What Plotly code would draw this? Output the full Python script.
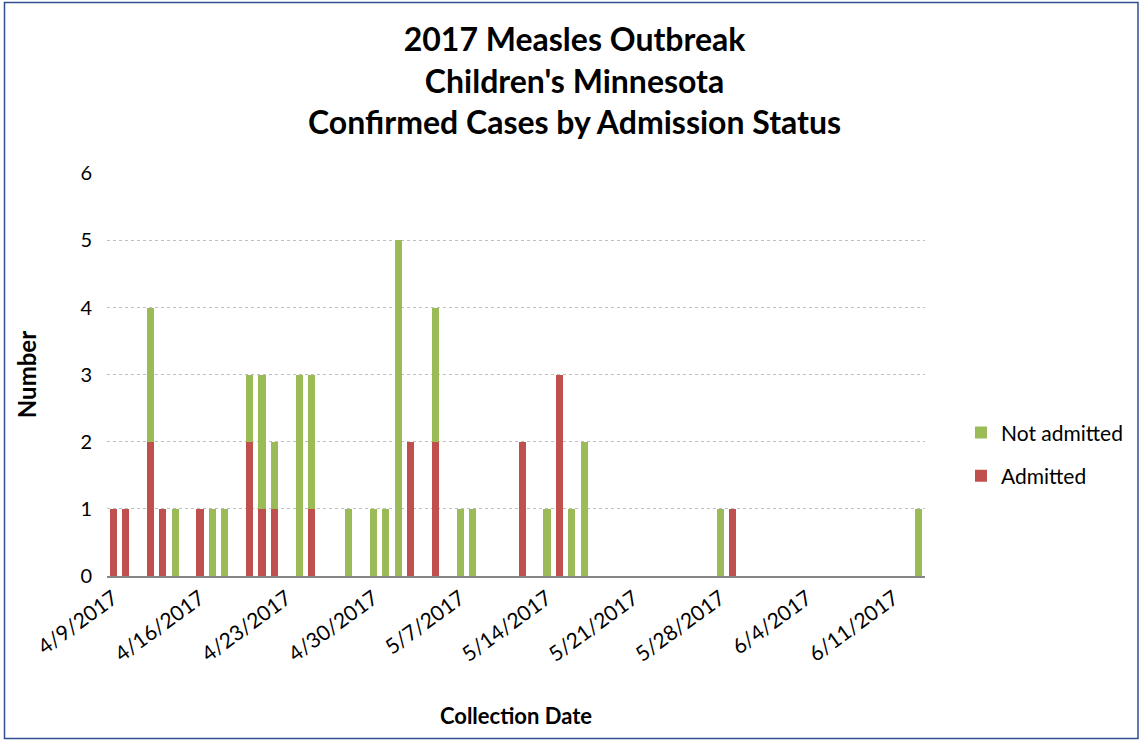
import plotly.graph_objects as go

# ---- data ----
dates = ["2017-04-09", "2017-04-10", "2017-04-12", "2017-04-13", "2017-04-14",
         "2017-04-16", "2017-04-17", "2017-04-18", "2017-04-20", "2017-04-21",
         "2017-04-22", "2017-04-24", "2017-04-25", "2017-04-28", "2017-04-30",
         "2017-05-01", "2017-05-02", "2017-05-03", "2017-05-05", "2017-05-07",
         "2017-05-08", "2017-05-12", "2017-05-14", "2017-05-15", "2017-05-16",
         "2017-05-17", "2017-05-28", "2017-05-29", "2017-06-13"]
admitted = [1, 1, 2, 1, 0,
            1, 0, 0, 2, 1,
            1, 0, 1, 0, 0,
            0, 0, 2, 2, 0,
            0, 2, 0, 3, 0,
            0, 0, 1, 0]
not_admitted = [0, 0, 2, 0, 1,
                0, 1, 1, 1, 2,
                1, 3, 2, 1, 1,
                1, 5, 0, 2, 1,
                1, 0, 1, 0, 1,
                2, 1, 0, 1]
tick_dates = ["2017-04-09", "2017-04-16", "2017-04-23", "2017-04-30", "2017-05-07",
              "2017-05-14", "2017-05-21", "2017-05-28", "2017-06-04", "2017-06-11"]
tick_labels = ["4/9/2017", "4/16/2017", "4/23/2017", "4/30/2017", "5/7/2017",
               "5/14/2017", "5/21/2017", "5/28/2017", "6/4/2017", "6/11/2017"]

RED = "#C0504D"
GREEN = "#9BBB59"
FONT = "Lato"
DAY_MS = 86400000
bar_w = 0.58 * DAY_MS

fig = go.Figure()
fig.add_trace(go.Bar(x=dates, y=admitted, name="Admitted", marker_color=RED,
                     marker_line_width=0, width=bar_w, legend="legend2"))
fig.add_trace(go.Bar(x=dates, y=not_admitted, name="Not admitted", marker_color=GREEN,
                     marker_line_width=0, width=bar_w, legend="legend"))

fig.update_layout(
    width=1140, height=740,
    barmode="stack",
    showlegend=True,
    paper_bgcolor="white", plot_bgcolor="white",
    margin=dict(l=107, r=215, t=173, b=164),
    font=dict(family=FONT, color="black"),
    title=dict(
        text="<b>2017 Measles Outbreak<br>Children's Minnesota<br>Confirmed Cases by Admission Status</b>",
        x=0.504, xanchor="center", y=0.931, yanchor="top",
        font=dict(family=FONT, size=32, color="black"),
    ),
    legend=dict(x=1.044, y=0.355, xanchor="left", yanchor="middle",
                font=dict(size=21), bgcolor="rgba(0,0,0,0)", itemwidth=30),
    legend2=dict(x=1.044, y=0.248, xanchor="left", yanchor="middle",
                 font=dict(size=21), bgcolor="rgba(0,0,0,0)", itemwidth=30),
    bargap=0,
)

fig.update_xaxes(
    type="date",
    range=["2017-04-08 12:00", "2017-06-13 12:00"],
    tickvals=tick_dates, ticktext=tick_labels, tickangle=-36,
    tickfont=dict(size=21, family=FONT),
    showline=True, linecolor="#868686", linewidth=2,
    showgrid=False, ticks="", zeroline=False,
    title=dict(text="<b>Collection Date</b>", font=dict(size=22, family=FONT), standoff=44),
)
fig.update_yaxes(
    range=[0, 6.004], dtick=1, tick0=0,
    tickfont=dict(size=20, family=FONT),
    showgrid=True, gridcolor="#BFBFBF", griddash="dot", gridwidth=1,
    zeroline=False, showline=False, ticks="", ticklabelstandoff=14,
    title=dict(text="<b>Number</b>", font=dict(size=24, family=FONT), standoff=36),
)

# outer chart border
fig.add_shape(type="rect", xref="paper", yref="paper",
              x0=(4.5 - 107) / 818, x1=(1138 - 107) / 818,
              y0=(576 - 738.5) / 403, y1=(576 - 2.5) / 403,
              line=dict(color="#2F4F8F", width=1.5), fillcolor="rgba(0,0,0,0)", layer="below")

fig.write_html("out.html")
